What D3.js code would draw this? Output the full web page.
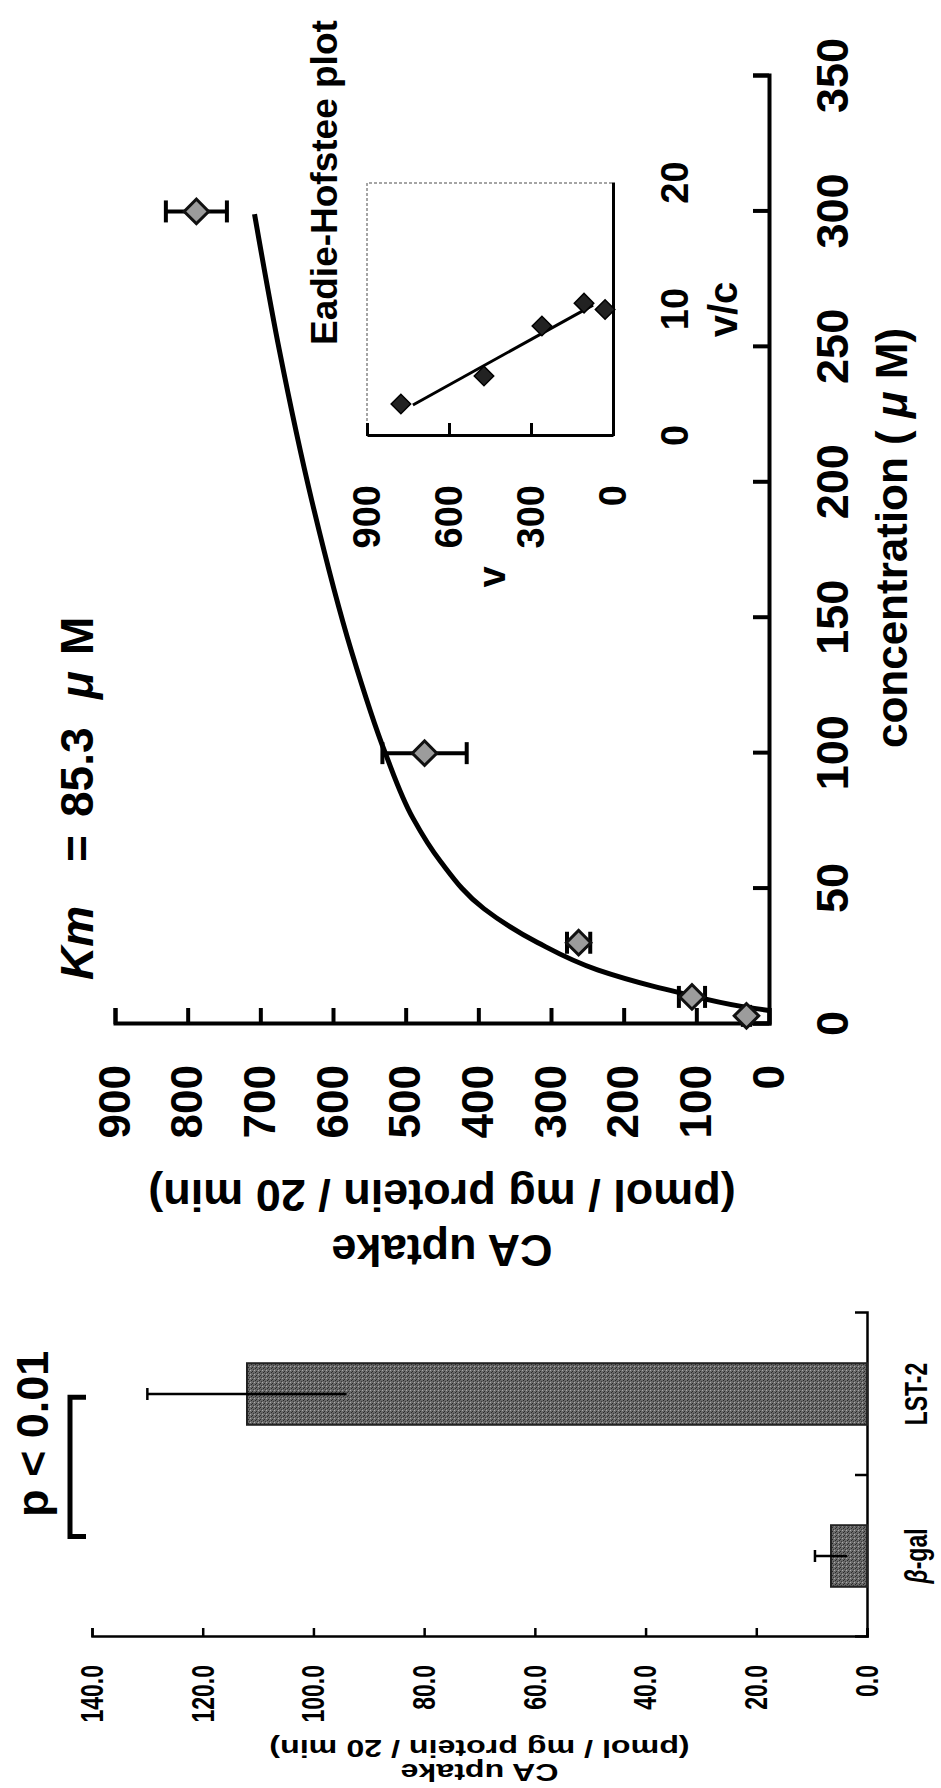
<!DOCTYPE html>
<meta charset="utf-8">
<style>
body { margin: 0; background: #fff; }
svg { display: block; }
text { font-family: "Liberation Sans", Arial, sans-serif; font-weight: bold; fill: #000; }
.axis path, .axis line { stroke: #000; }
</style>
<body>
<div id="chart"></div>
<script src="https://d3js.org/d3.v7.min.js"></script>
<script>

var width = 941,
    height = 1788;

// main plot: CA uptake against concentration
var concentrations = [3, 10, 30, 100, 300];
var uptakeMean = [31, 106, 262, 474, 788];
var uptakeErr = [5, 18, 16, 58, 42];

// fitted curve
var fitConc = [5, 6.6, 11.5, 14, 20, 30, 42.5, 60, 76, 100, 138, 193, 249, 299];
var fitUptake = [0, 40, 122, 160, 236, 318, 392, 452, 490, 528, 575, 629, 674, 708];

var concTicks = [0, 50, 100, 150, 200, 250, 300, 350];
var uptakeTicks = [0, 100, 200, 300, 400, 500, 600, 700, 800, 900];

// Eadie-Hofstee inset
var ehVc = [2.53, 4.74, 8.7, 10.5, 10.0];
var ehV = [776, 472, 260, 106, 29];
var ehLineVc = [2.45, 10.35];
var ehLineV = [732, 73];
var ehVcTicks = [0, 10, 20];
var ehVTicks = [0, 300, 600, 900];

// bar panel
var barCategories = ["β-gal", "LST-2"];
var barMeans = [6.5, 112];
var barErrs = [2.9, 18];
var barTicks = [0, 20, 40, 60, 80, 100, 120, 140];

var svg = d3.select("#chart")
    .append("svg")
    .attr("width", width)
    .attr("height", height);

svg.append("rect")
    .attr("width", width)
    .attr("height", height)
    .attr("fill", "#fff");

// grainy grey for the bars
var pat = svg.append("defs").append("pattern")
    .attr("id", "grain")
    .attr("width", 4)
    .attr("height", 4)
    .attr("patternUnits", "userSpaceOnUse");
pat.append("rect").attr("width", 4).attr("height", 4).attr("fill", "#6a6a6a");
pat.append("rect").attr("x", 0).attr("y", 0).attr("width", 1).attr("height", 1).attr("fill", "#2a2a2a");
pat.append("rect").attr("x", 2).attr("y", 1).attr("width", 1).attr("height", 1).attr("fill", "#3a3a3a");
pat.append("rect").attr("x", 1).attr("y", 2).attr("width", 1).attr("height", 1).attr("fill", "#aaa");
pat.append("rect").attr("x", 3).attr("y", 3).attr("width", 1).attr("height", 1).attr("fill", "#2a2a2a");

// the figure sits a quarter turn round on the page: draw it upright, then turn it
var fig = svg.append("g")
    .attr("transform", "translate(0," + height + ") rotate(-90)");


// ---------- main plot ----------
var x = d3.scaleLinear().domain([0, 350]).range([764, 1712]);
var y = d3.scaleLinear().domain([0, 900]).range([769, 115]);

var xAxis = fig.append("g")
    .attr("class", "axis")
    .attr("transform", "translate(0,769)")
    .call(d3.axisBottom(x).tickValues(concTicks).tickSize(-16).tickPadding(47));
xAxis.selectAll("text").attr("font-size", 45);
xAxis.selectAll("path, line").attr("stroke-width", 4);

var yAxis = fig.append("g")
    .attr("class", "axis")
    .attr("transform", "translate(764,0)")
    .call(d3.axisLeft(y).tickValues(uptakeTicks).tickSize(-16).tickPadding(41));
yAxis.selectAll("text").attr("font-size", 44);
yAxis.selectAll("path, line").attr("stroke-width", 4);

var fit = fitConc.map(function(c, i) { return [c, fitUptake[i]]; });

fig.append("path")
    .datum(fit)
    .attr("fill", "none")
    .attr("stroke", "#000")
    .attr("stroke-width", 5)
    .attr("d", d3.line()
        .x(function(d) { return x(d[0]); })
        .y(function(d) { return y(d[1]); })
        .curve(d3.curveMonotoneX));

var pts = concentrations.map(function(c, i) {
    return { c: c, m: uptakeMean[i], e: uptakeErr[i] };
});

var err = fig.append("g").selectAll("g")
    .data(pts)
    .enter().append("g")
    .attr("stroke", "#000")
    .attr("stroke-width", 4);

err.append("line")
    .attr("x1", function(d) { return x(d.c); })
    .attr("x2", function(d) { return x(d.c); })
    .attr("y1", function(d) { return y(d.m - d.e); })
    .attr("y2", function(d) { return y(d.m + d.e); });

err.selectAll("line.cap")
    .data(function(d) { return [[d.c, d.m - d.e], [d.c, d.m + d.e]]; })
    .enter().append("line")
    .attr("class", "cap")
    .attr("x1", function(d) { return x(d[0]) - 11; })
    .attr("x2", function(d) { return x(d[0]) + 11; })
    .attr("y1", function(d) { return y(d[1]); })
    .attr("y2", function(d) { return y(d[1]); });

var diamond = d3.symbol().type(d3.symbolSquare).size(300);

fig.append("g").selectAll("path")
    .data(pts)
    .enter().append("path")
    .attr("d", diamond)
    .attr("transform", function(d) { return "translate(" + x(d.c) + "," + y(d.m) + ") rotate(45)"; })
    .attr("fill", "#9c9c9c")
    .attr("stroke", "#111")
    .attr("stroke-width", 3);

// Km label
var km = fig.append("text")
    .attr("y", 93)
    .attr("font-size", 46);
km.append("tspan").attr("x", 808).attr("font-style", "italic").text("Km");
km.append("tspan").attr("x", 926).text("=");
km.append("tspan").attr("x", 971).text("85.3");
km.append("tspan").attr("x", 1089).attr("font-style", "italic").text("μ");
km.append("tspan").attr("x", 1133).text("M");

// axis titles
var xTitle = fig.append("text")
    .attr("x", (x(0) + x(350)) / 2 + 12)
    .attr("y", 907)
    .attr("font-size", 44)
    .attr("text-anchor", "middle");
xTitle.append("tspan").text("concentration ( ");
xTitle.append("tspan").attr("font-style", "italic").text("μ");
xTitle.append("tspan").text(" M)");

var yMid = (y(0) + y(900)) / 2;
fig.append("text")
    .attr("transform", "translate(553," + yMid + ") rotate(-90)")
    .attr("font-size", 45)
    .attr("text-anchor", "middle")
    .text("CA uptake");
fig.append("text")
    .attr("transform", "translate(608," + yMid + ") rotate(-90)")
    .attr("font-size", 45)
    .attr("text-anchor", "middle")
    .text("(pmol / mg protein / 20 min)");


// ---------- Eadie-Hofstee inset ----------
var ex = d3.scaleLinear().domain([0, 20]).range([1352, 1605]);
var ey = d3.scaleLinear().domain([0, 900]).range([613, 367]);

fig.append("path")
    .attr("d", "M" + ex(0) + "," + ey(900) + "H" + ex(20) + "V" + ey(0))
    .attr("fill", "none")
    .attr("stroke", "#888")
    .attr("stroke-width", 1.5)
    .attr("stroke-dasharray", "3,2");

var exAxis = fig.append("g")
    .attr("class", "axis")
    .attr("transform", "translate(0," + ey(0) + ")")
    .call(d3.axisBottom(ex).tickValues(ehVcTicks).tickSizeInner(0).tickSizeOuter(0).tickPadding(48));
exAxis.selectAll("text").attr("font-size", 38);
exAxis.selectAll("path, line").attr("stroke-width", 3);

var eyAxis = fig.append("g")
    .attr("class", "axis")
    .attr("transform", "translate(" + ex(0) + ",0)")
    .call(d3.axisLeft(ey).tickValues(ehVTicks).tickSizeInner(-13).tickSizeOuter(0).tickPadding(49));
eyAxis.selectAll("text").attr("font-size", 38);
eyAxis.selectAll("path, line").attr("stroke-width", 3);

fig.append("line")
    .attr("x1", ex(ehLineVc[0]))
    .attr("y1", ey(ehLineV[0]))
    .attr("x2", ex(ehLineVc[1]))
    .attr("y2", ey(ehLineV[1]))
    .attr("stroke", "#000")
    .attr("stroke-width", 3);

var smallDiamond = d3.symbol().type(d3.symbolSquare).size(190);

fig.append("g").selectAll("path")
    .data(ehVc.map(function(vc, i) { return [vc, ehV[i]]; }))
    .enter().append("path")
    .attr("d", smallDiamond)
    .attr("transform", function(d) { return "translate(" + ex(d[0]) + "," + ey(d[1]) + ") rotate(45)"; })
    .attr("fill", "#222")
    .attr("stroke", "#000")
    .attr("stroke-width", 1.5);

fig.append("text")
    .attr("x", (ex(0) + ex(20)) / 2)
    .attr("y", 737)
    .attr("font-size", 40)
    .attr("text-anchor", "middle")
    .text("v/c");

fig.append("text")
    .attr("x", 1211)
    .attr("y", 505)
    .attr("font-size", 38)
    .attr("text-anchor", "middle")
    .text("v");

fig.append("text")
    .attr("x", 1443)
    .attr("y", 337)
    .attr("font-size", 37)
    .text("Eadie-Hofstee plot");


// ---------- bar panel ----------
var stretch = 1.4;   // this panel is printed taller than it is wide

var bx = d3.scaleBand().domain(barCategories).range([151, 475]).padding(0);
var by = d3.scaleLinear().domain([0, 140]).range([867, 92]);

var barW = bx.bandwidth() * 0.38;

var byAxis = fig.append("g")
    .attr("class", "axis")
    .attr("transform", "translate(151,0)")
    .call(d3.axisLeft(by).tickValues(barTicks).tickSize(-9).tickPadding(28).tickFormat(d3.format(".1f")));
byAxis.selectAll("text").attr("font-size", 23).attr("transform", "scale(1," + stretch + ")");
byAxis.selectAll("path, line").attr("stroke-width", 2.5);

var bxAxis = fig.append("g")
    .attr("class", "axis")
    .attr("transform", "translate(0,867)")
    .call(d3.axisBottom(bx).tickSizeInner(0).tickSizeOuter(-12));
bxAxis.selectAll("path, line").attr("stroke-width", 2.5);
bxAxis.selectAll("text").remove();

// ticks between the categories
bxAxis.selectAll("line.sep")
    .data(barCategories.slice(0, -1))
    .enter().append("line")
    .attr("class", "sep")
    .attr("x1", function(d) { return bx(d) + bx.bandwidth(); })
    .attr("x2", function(d) { return bx(d) + bx.bandwidth(); })
    .attr("y1", 0)
    .attr("y2", -12)
    .attr("stroke", "#000")
    .attr("stroke-width", 2.5);

var catLabels = bxAxis.selectAll("text.cat")
    .data(barCategories)
    .enter().append("text")
    .attr("class", "cat")
    .attr("font-size", 23)
    .attr("text-anchor", "middle")
    .attr("transform", function(d) {
        return "translate(" + (bx(d) + bx.bandwidth() / 2) + ",60) scale(1," + stretch + ")";
    });
catLabels.each(function(d) {
    var t = d3.select(this);
    if (d.charAt(0) === "β") {
        t.append("tspan").attr("font-style", "italic").text("β");
        t.append("tspan").text(d.slice(1));
    } else {
        t.text(d);
    }
});

var bars = barCategories.map(function(c, i) {
    return { c: c, m: barMeans[i], e: barErrs[i] };
});

fig.append("g").selectAll("rect")
    .data(bars)
    .enter().append("rect")
    .attr("x", function(d) { return bx(d.c) + bx.bandwidth() / 2 - barW / 2; })
    .attr("width", barW)
    .attr("y", function(d) { return by(d.m); })
    .attr("height", function(d) { return by(0) - by(d.m); })
    .attr("fill", "url(#grain)")
    .attr("stroke", "#222")
    .attr("stroke-width", 2);

var barErr = fig.append("g").selectAll("g")
    .data(bars)
    .enter().append("g")
    .attr("stroke", "#000")
    .attr("stroke-width", 2.5);

barErr.append("line")
    .attr("x1", function(d) { return bx(d.c) + bx.bandwidth() / 2; })
    .attr("x2", function(d) { return bx(d.c) + bx.bandwidth() / 2; })
    .attr("y1", function(d) { return by(d.m - d.e); })
    .attr("y2", function(d) { return by(d.m + d.e); });

barErr.append("line")
    .attr("x1", function(d) { return bx(d.c) + bx.bandwidth() / 2 - 6; })
    .attr("x2", function(d) { return bx(d.c) + bx.bandwidth() / 2 + 6; })
    .attr("y1", function(d) { return by(d.m + d.e); })
    .attr("y2", function(d) { return by(d.m + d.e); });

// significance bracket
var b0 = bx("β-gal") + bx.bandwidth() * 0.62,
    b1 = bx("LST-2") + bx.bandwidth() * 0.48;
fig.append("path")
    .attr("d", "M" + b0 + ",86V70H" + b1 + "V86")
    .attr("fill", "none")
    .attr("stroke", "#000")
    .attr("stroke-width", 5);

fig.append("text")
    .attr("x", 271)
    .attr("y", 48)
    .attr("font-size", 45)
    .text("p < 0.01");

var barMid = (by(0) + by(140)) / 2;
fig.append("text")
    .attr("transform", "translate(24.5," + barMid + ") rotate(-90) scale(" + stretch + ",1)")
    .attr("font-size", 23)
    .attr("text-anchor", "middle")
    .text("CA uptake");
fig.append("text")
    .attr("transform", "translate(48," + barMid + ") rotate(-90) scale(" + stretch + ",1)")
    .attr("font-size", 23)
    .attr("text-anchor", "middle")
    .text("(pmol / mg protein / 20 min)");

</script>
</body>
